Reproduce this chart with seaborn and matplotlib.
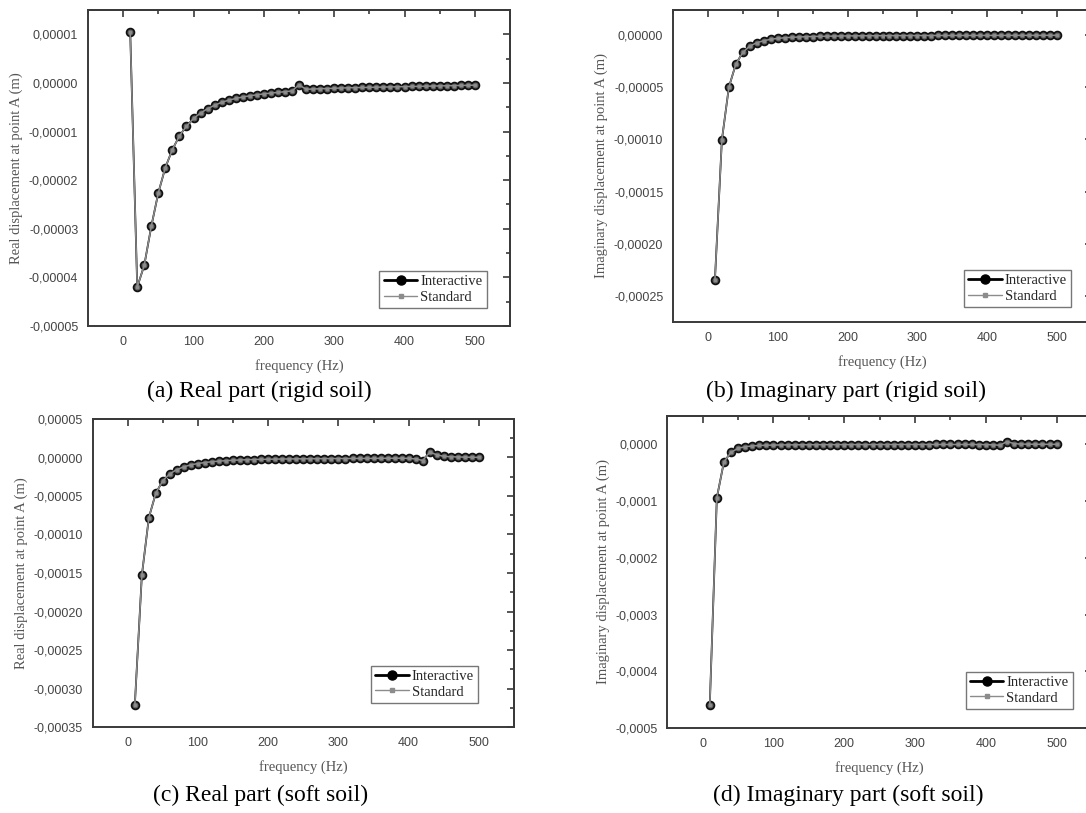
import matplotlib
matplotlib.use("Agg")
import matplotlib.pyplot as plt
from matplotlib.ticker import MultipleLocator, FuncFormatter
from matplotlib.lines import Line2D
import seaborn as sns
import numpy as np

# ---------------- data ----------------
freq = [10, 20, 30, 40, 50, 60, 70, 80, 90, 100,
        110, 120, 130, 140, 150, 160, 170, 180, 190, 200,
        210, 220, 230, 240, 250, 260, 270, 280, 290, 300,
        310, 320, 330, 340, 350, 360, 370, 380, 390, 400,
        410, 420, 430, 440, 450, 460, 470, 480, 490, 500]

real_rigid = [1.05e-5, -4.20e-5, -3.75e-5, -2.95e-5, -2.26e-5, -1.74e-5, -1.37e-5, -1.09e-5, -0.89e-5, -0.73e-5,
              -0.62e-5, -0.53e-5, -0.46e-5, -0.40e-5, -0.355e-5, -0.32e-5, -0.29e-5, -0.265e-5, -0.245e-5, -0.225e-5,
              -0.21e-5, -0.195e-5, -0.18e-5, -0.165e-5, -0.04e-5, -0.13e-5, -0.125e-5, -0.12e-5, -0.115e-5, -0.11e-5,
              -0.105e-5, -0.10e-5, -0.097e-5, -0.094e-5, -0.091e-5, -0.088e-5, -0.085e-5, -0.082e-5, -0.079e-5, -0.076e-5,
              -0.073e-5, -0.070e-5, -0.067e-5, -0.064e-5, -0.061e-5, -0.058e-5, -0.055e-5, -0.052e-5, -0.049e-5, -0.046e-5]

imag_rigid = [-2.35e-4, -1.005e-4, -5.0e-5, -2.78e-5, -1.66e-5, -1.05e-5, -7.4e-6, -5.4e-6, -4.1e-6, -3.2e-6,
              -2.6e-6, -2.2e-6, -1.85e-6, -1.6e-6, -1.4e-6, -1.25e-6, -1.1e-6, -1.0e-6, -0.9e-6, -0.82e-6,
              -0.76e-6, -0.72e-6, -0.68e-6, -0.64e-6, -0.6e-6, -0.57e-6, -0.54e-6, -0.52e-6, -0.5e-6, -0.48e-6,
              -0.46e-6, -0.44e-6, -0.42e-6, -0.41e-6, -0.40e-6, -0.39e-6, -0.38e-6, -0.37e-6, -0.36e-6, -0.35e-6,
              -0.34e-6, -0.33e-6, -0.32e-6, -0.31e-6, -0.30e-6, -0.29e-6, -0.28e-6, -0.27e-6, -0.26e-6, -0.25e-6]

real_soft = [-3.21e-4, -1.53e-4, -7.8e-5, -4.6e-5, -3.0e-5, -2.1e-5, -1.56e-5, -1.2e-5, -9.5e-6, -7.8e-6,
             -6.5e-6, -5.5e-6, -4.7e-6, -4.1e-6, -3.6e-6, -3.2e-6, -2.9e-6, -2.6e-6, -2.4e-6, -2.2e-6,
             -2.05e-6, -1.95e-6, -1.85e-6, -1.75e-6, -1.65e-6, -1.58e-6, -1.5e-6, -1.45e-6, -1.4e-6, -1.35e-6,
             -1.3e-6, -1.25e-6, -1.2e-6, -1.15e-6, -1.1e-6, -1.05e-6, -1.0e-6, -0.95e-6, -0.9e-6, -1.2e-6,
             -1.8e-6, -3.9e-6, 7.0e-6, 3.5e-6, 1.5e-6, 1.0e-6, 0.7e-6, 0.5e-6, 0.3e-6, 0.2e-6]

imag_soft = [-4.6e-4, -9.4e-5, -3.1e-5, -1.4e-5, -7.0e-6, -4.2e-6, -2.8e-6, -2.0e-6, -1.5e-6, -1.2e-6,
             -1.0e-6, -0.9e-6, -0.8e-6, -0.72e-6, -0.66e-6, -0.6e-6, -0.56e-6, -0.52e-6, -0.48e-6, -0.45e-6,
             -0.42e-6, -0.4e-6, -0.38e-6, -0.36e-6, -0.34e-6, -0.32e-6, -0.3e-6, -0.29e-6, -0.28e-6, -0.27e-6,
             -0.26e-6, -0.25e-6, -0.24e-6, -0.23e-6, -0.22e-6, -0.21e-6, -0.2e-6, -0.2e-6, -0.3e-6, -0.5e-6,
             -0.8e-6, -1.5e-6, 5.0e-6, 1.2e-6, 0.5e-6, 0.3e-6, 0.2e-6, 0.15e-6, 0.1e-6, 0.1e-6]

series_labels = ["Interactive", "Standard"]
ylabels = ["Real displacement at point A (m)", "Imaginary displacement at point A (m)",
           "Real displacement at point A (m)", "Imaginary displacement at point A (m)"]
captions = ["(a) Real part (rigid soil)", "(b) Imaginary part (rigid soil)",
            "(c) Real part (soft soil)", "(d) Imaginary part (soft soil)"]
xlabel = "frequency (Hz)"

# ---------------- style ----------------
sns.set_style("white")
plt.rcParams["font.family"] = ["Liberation Sans", "DejaVu Sans"]
serif = ["Liberation Serif", "DejaVu Serif"]

W, H = 1086, 813
fig = plt.figure(figsize=(W / 100, H / 100), dpi=100)

def frac(l, r, t, b):
    return [l / W, 1 - b / H, (r - l) / W, (b - t) / H]

panels = [
    dict(data=real_rigid, pos=frac(88, 510, 10, 326), ylim=(-5e-5, 1.5e-5), major=1e-5, dec=5,
         leg=(0.945, 0.057), cap=(259, 391)),
    dict(data=imag_rigid, pos=frac(673, 1092, 10, 322), ylim=(-2.75e-4, 2.4e-5), major=5e-5, dec=5,
         leg=(0.95, 0.048), cap=(846, 391)),
    dict(data=real_soft, pos=frac(92.7, 514, 419, 727), ylim=(-3.5e-4, 5e-5), major=5e-5, dec=5,
         leg=(0.915, 0.078), cap=(261, 795)),
    dict(data=imag_soft, pos=frac(667.3, 1092, 416, 728), ylim=(-5e-4, 5e-5), major=1e-4, dec=4,
         leg=(0.955, 0.061), cap=(848, 795)),
]

spine_c = "#3a3a3a"
label_c = "#444444"

def make_fmt(dec):
    def f(v, p):
        if abs(v) < 1e-12:
            v = 0.0
        return f"{v:.{dec}f}".replace(".", ",")
    return FuncFormatter(f)

for i, p in enumerate(panels):
    ax = fig.add_axes(p["pos"])
    vals = p["data"]
    sns.lineplot(x=freq, y=vals, ax=ax, color="black", linewidth=1.3,
                 marker="o", markersize=5.6, markerfacecolor="#666666",
                 markeredgecolor="#111111", markeredgewidth=1.3, zorder=3)
    sns.lineplot(x=freq, y=vals, ax=ax, color="#8c8c8c", linewidth=1.1,
                 marker="s", markersize=2.0, markerfacecolor="#8c8c8c",
                 markeredgecolor="#8c8c8c", zorder=4)
    ax.set_xlim(-50, 550)
    ax.set_ylim(*p["ylim"])
    ax.xaxis.set_major_locator(MultipleLocator(100))
    ax.xaxis.set_minor_locator(MultipleLocator(50))
    ax.yaxis.set_major_locator(MultipleLocator(p["major"]))
    ax.yaxis.set_minor_locator(MultipleLocator(p["major"] / 2))
    ax.yaxis.set_major_formatter(make_fmt(p["dec"]))
    ax.tick_params(which="both", direction="out", color=spine_c, width=1.2,
                   labelsize=9, labelcolor=label_c, top=False, right=False, pad=2)
    ax.tick_params(which="major", length=5)
    ax.tick_params(which="minor", length=3)
    for s in ax.spines.values():
        s.set_color(spine_c)
        s.set_linewidth(1.4)
    # mirrored inward ticks on top / right
    sx = ax.secondary_xaxis("top")
    sx.xaxis.set_major_locator(MultipleLocator(100))
    sx.xaxis.set_minor_locator(MultipleLocator(50))
    sx.tick_params(which="both", direction="in", labeltop=False, color=spine_c, width=1.2)
    sx.tick_params(which="major", length=5)
    sx.tick_params(which="minor", length=3)
    sx.spines["top"].set_color(spine_c)
    sx.spines["top"].set_linewidth(1.4)
    sy = ax.secondary_yaxis("right")
    sy.yaxis.set_major_locator(MultipleLocator(p["major"]))
    sy.yaxis.set_minor_locator(MultipleLocator(p["major"] / 2))
    sy.tick_params(which="both", direction="in", labelright=False, color=spine_c, width=1.2)
    sy.tick_params(which="major", length=5)
    sy.tick_params(which="minor", length=3)
    sy.spines["right"].set_color(spine_c)
    sy.spines["right"].set_linewidth(1.4)

    ax.set_xlabel(xlabel, family=serif, fontsize=10.5, color="#555555", labelpad=8)
    ax.set_ylabel(ylabels[i], family=serif, fontsize=10.5, color="#555555", labelpad=4)

    handles = [
        Line2D([], [], color="black", linewidth=2.0, marker="o", markersize=6.5,
               markerfacecolor="black", markeredgecolor="black"),
        Line2D([], [], color="#8c8c8c", linewidth=1.0, marker="s", markersize=2.5,
               markerfacecolor="#8c8c8c", markeredgecolor="#8c8c8c"),
    ]
    leg = ax.legend(handles, series_labels, loc="lower right", bbox_to_anchor=p["leg"],
                    borderaxespad=0, frameon=True, fancybox=False, framealpha=1,
                    prop={"family": serif, "size": 10.5}, handlelength=2.3,
                    handletextpad=0.2, labelspacing=0.15, borderpad=0.3)
    leg.get_frame().set_edgecolor("#777777")
    leg.get_frame().set_linewidth(1.0)

    cx, cy = p["cap"]
    fig.text(cx / W, 1 - cy / H, captions[i], family=serif, fontsize=17,
             ha="center", va="center", color="black")

fig.savefig("out.png", dpi=100)
